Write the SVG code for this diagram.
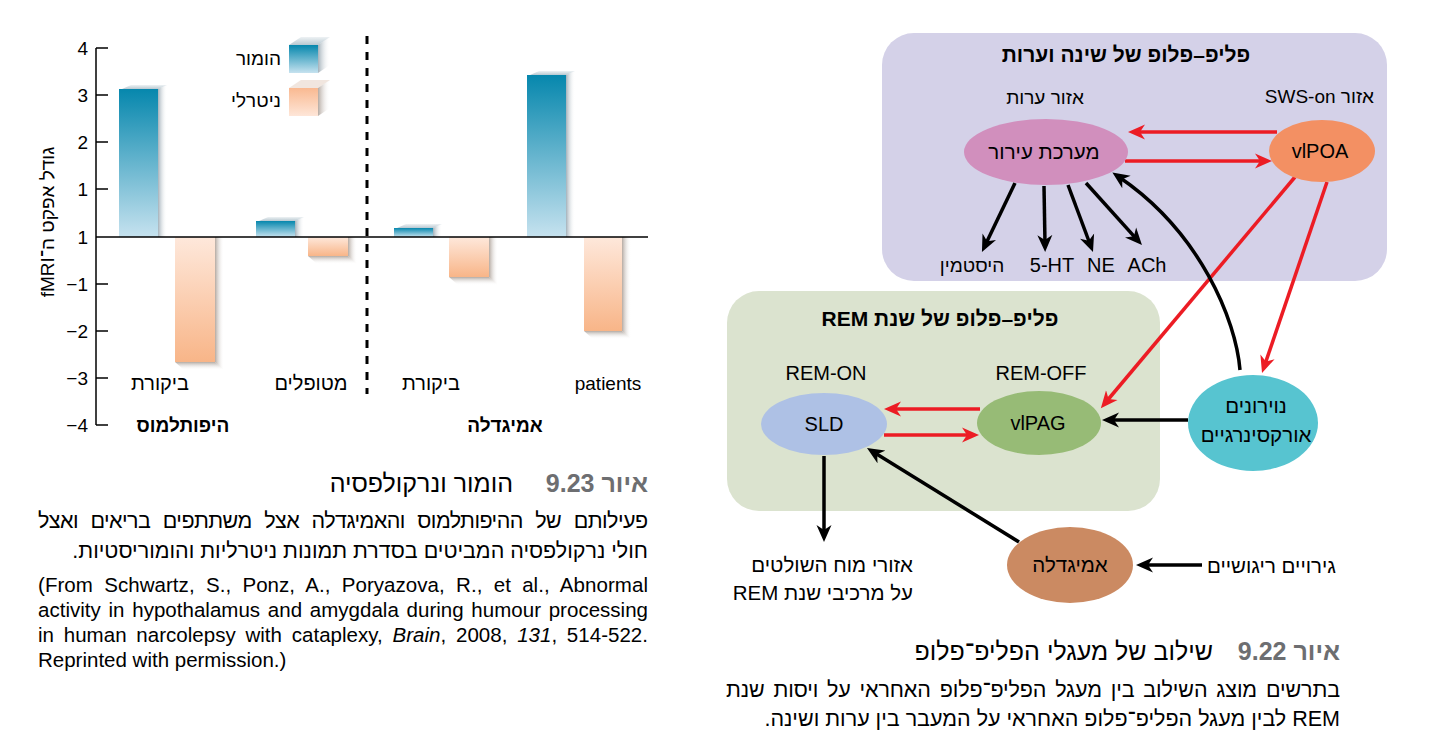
<svg xmlns="http://www.w3.org/2000/svg" width="1450" height="736" viewBox="0 0 1450 736">
<defs>
<style>
text{font-family:"Liberation Sans","DejaVu Sans",sans-serif;fill:#000}
.rtl{direction:rtl;unicode-bidi:embed}
.t20{font-size:20px}
.t19{font-size:19px}
.h21{font-size:20.5px}
.b{font-weight:bold}
.ttl{font-size:21px;font-weight:bold}
.tick{stroke:#000;stroke-width:1.5}
.red{stroke:#ec1c24;stroke-width:3.5;fill:none;marker-end:url(#mr)}
.blk{stroke:#000;stroke-width:3.5;fill:none;marker-end:url(#mb)}
.cap{font-size:21.5px}
.capt{font-size:25px}
.fig{font-weight:bold;fill:#6d6e71}
.cit{font-size:20.5px}
</style>
<marker id="mr" viewBox="-9 -8 18 16" refX="0" refY="0" markerWidth="18" markerHeight="16" markerUnits="userSpaceOnUse" orient="auto">
<path d="M8,0 L-9,-7.5 L-4,0 L-9,7.5 z" fill="#ec1c24"/>
</marker>
<marker id="mb" viewBox="-9 -8 18 16" refX="0" refY="0" markerWidth="18" markerHeight="16" markerUnits="userSpaceOnUse" orient="auto">
<path d="M8,0 L-9,-7.5 L-4,0 L-9,7.5 z" fill="#000"/>
</marker>
<linearGradient id="gHum" x1="0" y1="0" x2="0" y2="1"><stop offset="0" stop-color="#0687ad"/><stop offset="1" stop-color="#c6e2ef"/></linearGradient>
<linearGradient id="gNeu" x1="0" y1="0" x2="0" y2="1"><stop offset="0" stop-color="#fee8db"/><stop offset="1" stop-color="#f8b588"/></linearGradient>
<linearGradient id="gNeuL" x1="0" y1="0" x2="0" y2="1"><stop offset="0" stop-color="#f9b991"/><stop offset="1" stop-color="#fee6d8"/></linearGradient>
<linearGradient id="gShR" x1="0" y1="0" x2="1" y2="0"><stop offset="0" stop-color="#a3b1ba"/><stop offset="1" stop-color="#ffffff" stop-opacity="0"/></linearGradient>
<linearGradient id="gShB" x1="0" y1="0" x2="0" y2="1"><stop offset="0" stop-color="#b3aaa3"/><stop offset="1" stop-color="#ffffff" stop-opacity="0"/></linearGradient>
<linearGradient id="gShN" x1="0" y1="0" x2="1" y2="0"><stop offset="0" stop-color="#b5aaa2"/><stop offset="1" stop-color="#ffffff" stop-opacity="0"/></linearGradient>
<linearGradient id="gTop" x1="0" y1="1" x2="0" y2="0"><stop offset="0" stop-color="#b8c8d1"/><stop offset="1" stop-color="#eef2f4"/></linearGradient>
</defs>
<rect width="1450" height="736" fill="#fff"/>

<!-- ===== Figure 9.23 : bar chart ===== -->
<g id="chart">
  <g id="y-axis">
    <line class="tick" x1="96" y1="48" x2="96" y2="425"/>
    <line class="tick" x1="96" y1="48" x2="108" y2="48"/>
    <line class="tick" x1="96" y1="95" x2="108" y2="95"/>
    <line class="tick" x1="96" y1="142" x2="108" y2="142"/>
    <line class="tick" x1="96" y1="189" x2="108" y2="189"/>
    <line class="tick" x1="96" y1="284" x2="108" y2="284"/>
    <line class="tick" x1="96" y1="331" x2="108" y2="331"/>
    <line class="tick" x1="96" y1="378" x2="108" y2="378"/>
    <line class="tick" x1="96" y1="425" x2="108" y2="425"/>
    <g class="t19" text-anchor="end">
      <text x="88" y="55">4</text>
      <text x="88" y="102">3</text>
      <text x="88" y="149">2</text>
      <text x="88" y="196">1</text>
      <text x="88" y="244">1</text>
      <text x="88" y="291">−1</text>
      <text x="88" y="338">−2</text>
      <text x="88" y="385">−3</text>
      <text x="88" y="432">−4</text>
    </g>
    <text class="rtl t19" transform="translate(54,222) rotate(-90)" text-anchor="middle">גודל אפקט ה־fMRI</text>
  </g>
  <g id="bars">
    <polygon points="122,89 131,85 167,85 158,89" fill="url(#gTop)"/>
    <polygon points="158,89 167,85 167,237 158,237" fill="url(#gShR)"/>
    <rect x="119" y="89" width="39" height="148" fill="url(#gHum)"/>

    <polygon points="215,237 224,237 224,370 215,362" fill="url(#gShN)"/>
    <polygon points="175,362 215,362 224,370 184,370" fill="url(#gShB)"/>
    <rect x="175" y="237" width="40" height="125" fill="url(#gNeu)"/>

    <polygon points="259,221 268,217 304,217 295,221" fill="url(#gTop)"/>
    <polygon points="295,221 304,217 304,237 295,237" fill="url(#gShR)"/>
    <rect x="256" y="221" width="39" height="16" fill="url(#gHum)"/>

    <polygon points="348,237 357,237 357,264 348,256" fill="url(#gShN)"/>
    <polygon points="308,256 348,256 357,264 317,264" fill="url(#gShB)"/>
    <rect x="308" y="237" width="40" height="19" fill="url(#gNeu)"/>

    <polygon points="397,228 406,224 442,224 433,228" fill="url(#gTop)"/>
    <polygon points="433,228 442,224 442,237 433,237" fill="url(#gShR)"/>
    <rect x="394" y="228" width="39" height="9" fill="url(#gHum)"/>

    <polygon points="489,237 498,237 498,285 489,277" fill="url(#gShN)"/>
    <polygon points="449,277 489,277 498,285 458,285" fill="url(#gShB)"/>
    <rect x="449" y="237" width="40" height="40" fill="url(#gNeu)"/>

    <polygon points="530,75 539,71 575,71 566,75" fill="url(#gTop)"/>
    <polygon points="566,75 575,71 575,237 566,237" fill="url(#gShR)"/>
    <rect x="527" y="75" width="39" height="162" fill="url(#gHum)"/>

    <polygon points="622,237 631,237 631,339 622,331" fill="url(#gShN)"/>
    <polygon points="584,331 622,331 631,339 593,339" fill="url(#gShB)"/>
    <rect x="584" y="237" width="38" height="94" fill="url(#gNeu)"/>
  </g>
  <line id="zero-line" x1="96" y1="237" x2="648" y2="237" stroke="#000" stroke-width="1.5"/>
  <line id="divider" x1="367" y1="36" x2="367" y2="394" stroke="#000" stroke-width="3" stroke-dasharray="8 8"/>
  <g id="legend">
    <polygon points="289,45 301,37 330,37 318,45" fill="url(#gTop)"/>
    <polygon points="318,45 330,37 330,65 318,73" fill="url(#gShR)"/>
    <rect x="289" y="45" width="29" height="28" fill="url(#gHum)"/>
    <polygon points="289,88 301,80 330,80 318,88" fill="#f1e6df"/>
    <polygon points="318,88 330,80 330,108 318,116" fill="url(#gShN)"/>
    <rect x="289" y="88" width="29" height="28" fill="url(#gNeuL)"/>
    <text class="rtl t19" x="281" y="65">הומור</text>
    <text class="rtl t19" x="281" y="107">ניטרלי</text>
  </g>
  <g id="x-labels" text-anchor="middle">
    <text class="rtl t20" x="160" y="390">ביקורת</text>
    <text class="rtl t20" x="311" y="390">מטופלים</text>
    <text class="rtl t20" x="431" y="390">ביקורת</text>
    <text class="t19" x="608" y="390">patients</text>
    <text class="rtl t19 b" x="183" y="432">היפותלמוס</text>
    <text class="rtl t19 b" x="505" y="432">אמיגדלה</text>
  </g>
</g>

<g id="caption-9-23">
  <text class="rtl capt fig" x="648" y="492">איור 9.23</text>
  <text class="rtl capt" x="513" y="492">הומור ונרקולפסיה</text>
  <text class="rtl cap" x="648" y="528" word-spacing="7" textLength="610" lengthAdjust="spacing">פעילותם של ההיפותלמוס והאמיגדלה אצל משתתפים בריאים ואצל</text>
  <text class="rtl cap" x="648" y="558">חולי נרקולפסיה המביטים בסדרת תמונות ניטרליות והומוריסטיות.</text>
  <g class="cit">
    <text x="38" y="592" word-spacing="5.5" textLength="610" lengthAdjust="spacing">(From Schwartz, S., Ponz, A., Poryazova, R., et al., Abnormal</text>
    <text x="38" y="617" word-spacing="2" textLength="610" lengthAdjust="spacing">activity in hypothalamus and amygdala during humour processing</text>
    <text x="38" y="642" word-spacing="4" textLength="610" lengthAdjust="spacing">in human narcolepsy with cataplexy, <tspan font-style="italic">Brain</tspan>, 2008, <tspan font-style="italic">131</tspan>, 514-522.</text>
    <text x="38" y="667">Reprinted with permission.)</text>
  </g>
</g>

<!-- ===== Figure 9.22 : flip-flop diagram ===== -->
<g id="box-sleep-wake">
  <rect x="882" y="33" width="505" height="248" rx="32" fill="#d4d1e8"/>
  <text class="rtl ttl" x="1126" y="62" text-anchor="middle">פליפ–פלופ של שינה וערות</text>
  <text class="rtl t19" x="1045" y="104" text-anchor="middle">אזור ערות</text>
  <text class="rtl t19" x="1374" y="103">אזור SWS-on</text>
</g>
<g id="box-rem">
  <rect x="727" y="291" width="433" height="220" rx="32" fill="#dbe3cf"/>
  <text class="rtl ttl" x="940" y="326" text-anchor="middle">פליפ–פלופ של שנת REM</text>
  <text class="t20" x="826" y="380" text-anchor="middle">REM-ON</text>
  <text class="t20" x="1041" y="380" text-anchor="middle">REM-OFF</text>
</g>

<g id="connectors">
  <line class="red" x1="1277" y1="132" x2="1136" y2="132"/>
  <line class="red" x1="1125" y1="161" x2="1264" y2="161"/>
  <line class="red" x1="1295" y1="177" x2="1106" y2="402"/>
  <line class="red" x1="1327" y1="182" x2="1264.6" y2="365.4"/>
  <line class="red" x1="980" y1="409" x2="892" y2="409"/>
  <line class="red" x1="884" y1="435" x2="971" y2="435"/>
  <line class="blk" x1="1015" y1="183" x2="985.4" y2="244.8"/>
  <line class="blk" x1="1044" y1="186" x2="1045" y2="244"/>
  <line class="blk" x1="1068" y1="185" x2="1090.2" y2="244.5"/>
  <line class="blk" x1="1086" y1="183" x2="1136.6" y2="239.1"/>
  <path class="blk" d="M1240,370 C1236,320 1200,232 1119,177"/>
  <line class="blk" x1="1188" y1="420" x2="1110" y2="420"/>
  <line class="blk" x1="824" y1="456" x2="824" y2="534"/>
  <line class="blk" x1="1019" y1="542" x2="873.8" y2="452.2"/>
  <line class="blk" x1="1202" y1="565" x2="1144" y2="565"/>
</g>

<g id="node-arousal">
  <ellipse cx="1046" cy="152" rx="82" ry="33" fill="#d18fbd"/>
  <text class="rtl h21" x="1044" y="159" text-anchor="middle">מערכת עירור</text>
</g>
<g id="node-vlpoa">
  <ellipse cx="1322" cy="151" rx="53" ry="31" fill="#f39063"/>
  <text class="t20" x="1320" y="158" text-anchor="middle">vlPOA</text>
</g>
<g id="node-sld">
  <ellipse cx="824" cy="424" rx="63" ry="31" fill="#aec1e5"/>
  <text class="t20" x="824" y="431" text-anchor="middle">SLD</text>
</g>
<g id="node-vlpag">
  <ellipse cx="1039" cy="423" rx="62" ry="32" fill="#97bb76"/>
  <text class="t20" x="1038" y="430" text-anchor="middle">vlPAG</text>
</g>
<g id="node-orexin">
  <ellipse cx="1253" cy="423" rx="65" ry="48" fill="#57c4d0"/>
  <text class="rtl h21" x="1256" y="413" text-anchor="middle">נוירונים</text>
  <text class="rtl h21" x="1256" y="442" text-anchor="middle">אורקסינרגיים</text>
</g>
<g id="node-amygdala">
  <ellipse cx="1070" cy="565" rx="63" ry="38" fill="#cb8a62"/>
  <text class="rtl h21" x="1070" y="572" text-anchor="middle">אמיגדלה</text>
</g>

<g id="labels">
  <text class="rtl t19" x="972" y="272" text-anchor="middle">היסטמין</text>
  <text class="t20" x="1052" y="272" text-anchor="middle">5-HT</text>
  <text class="t20" x="1101" y="272" text-anchor="middle">NE</text>
  <text class="t20" x="1147" y="272" text-anchor="middle">ACh</text>
  <text class="rtl h21" x="913" y="572">אזורי מוח השולטים</text>
  <text class="rtl h21" x="913" y="600">על מרכיבי שנת REM</text>
  <text class="rtl h21" x="1336" y="573">גירויים ריגושיים</text>
</g>

<g id="caption-9-22">
  <text class="rtl capt fig" x="1340" y="660">איור 9.22</text>
  <text class="rtl capt" x="1213" y="660">שילוב של מעגלי הפליפ־פלופ</text>
  <text class="rtl cap" x="1340" y="697" word-spacing="3" textLength="614" lengthAdjust="spacing">בתרשים מוצג השילוב בין מעגל הפליפ־פלופ האחראי על ויסות שנת</text>
  <text class="rtl cap" x="1340" y="726">REM לבין מעגל הפליפ־פלופ האחראי על המעבר בין ערות ושינה.</text>
</g>
</svg>
